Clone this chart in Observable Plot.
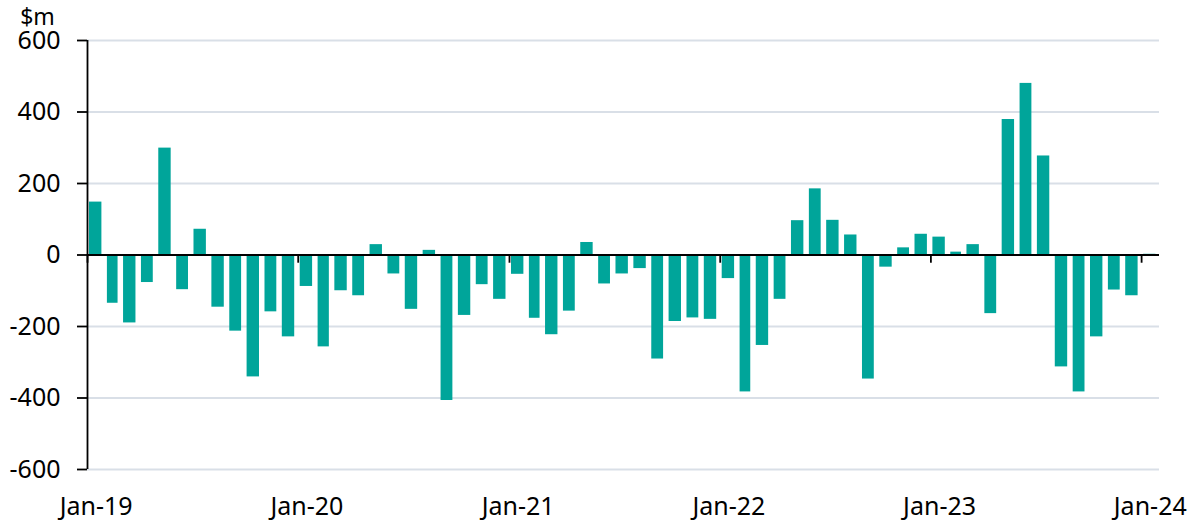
<!DOCTYPE html>
<html>
<head>
<meta charset="utf-8">
<script src="https://cdn.jsdelivr.net/npm/d3@7"></script>
<script src="https://cdn.jsdelivr.net/npm/@observablehq/plot@0.6"></script>
<style>
  html, body { margin: 0; padding: 0; background: #fff; }
  #chart { width: 1200px; height: 528px; }
  svg { font-family: "Noto Sans", sans-serif; }
</style>
</head>
<body>
<div id="chart"></div>
<script>
// Monthly values, $m, Jan-2019 .. Jan-2024
const startMonth = "2019-01-01";
const endMonth = "2024-02-01";
const values = [
  148, -135, -190, -77, 299, -97, 72, -146, -213, -341, -159, -229,
  -88, -257, -100, -114, 29, -53, -152, 13, -407, -169, -83, -124,
  -54, -177, -223, -157, 35, -81, -53, -38, -291, -186, -176, -180,
  -66, -383, -253, -124, 96, 185, 97, 56, -347, -34, 20, 58,
  50, 8, 29, -164, 379, 480, 277, -313, -383, -229, -98, -114,
  2
];
const yTicks = [-600, -400, -200, 0, 200, 400, 600];
const tickYears = ["2019", "2020", "2021", "2022", "2023", "2024"];
const tickLabels = ["Jan-19", "Jan-20", "Jan-21", "Jan-22", "Jan-23", "Jan-24"];
const unitLabel = "$m";

const months = d3.utcMonth.range(new Date(startMonth), new Date(endMonth));
const data = months.map((d, i) => ({date: d, value: values[i]}));
const yearStarts = tickYears.map(y => new Date(y + "-01-01"));
const labelDates = tickYears.map(y => new Date(y + "-01-16"));
const labelMap = new Map(labelDates.map((d, i) => [+d, tickLabels[i]]));
const xDomain = [new Date(startMonth), new Date(endMonth)];
const yDomain = [-600, 600];

const plot = Plot.plot({
  width: 1200,
  height: 528,
  marginLeft: 87,
  marginRight: 41,
  marginTop: 40,
  marginBottom: 59,
  style: {fontFamily: "Noto Sans, sans-serif", fontSize: "25px", color: "#000", background: "#fff"},
  x: {type: "utc", domain: xDomain},
  y: {domain: yDomain},
  marks: [
    Plot.gridY(yTicks, {stroke: "#d9dfe7", strokeOpacity: 1, strokeWidth: 1.8}),
    Plot.rectY(data, {x: "date", y: "value", interval: "month", fill: "#00a59a", insetLeft: 2, insetRight: 3.5}),
    Plot.ruleY([0], {stroke: "#000", strokeWidth: 1.8}),
    Plot.ruleX(yearStarts, {y1: 0, y2: -23, stroke: "#000", strokeWidth: 1.8}),
    Plot.ruleX([xDomain[0]], {y1: yDomain[0], y2: yDomain[1], stroke: "#000", strokeWidth: 1.8}),
    Plot.axisY(yTicks, {tickSize: 10, tickPadding: 17, fontSize: 25, stroke: "#000", strokeWidth: 1.8, label: null, tickFormat: d => String(d)}),
    Plot.axisX(labelDates, {tickSize: 0, tickPadding: 28, fontSize: 25, label: null, tickFormat: d => labelMap.get(+d)}),
    Plot.text([unitLabel], {frameAnchor: "top-left", dx: -50, dy: -23, text: d => d, textAnchor: "middle", lineAnchor: "middle", fontSize: 23, fill: "#000"})
  ]
});
document.getElementById("chart").appendChild(plot);
</script>
</body>
</html>
